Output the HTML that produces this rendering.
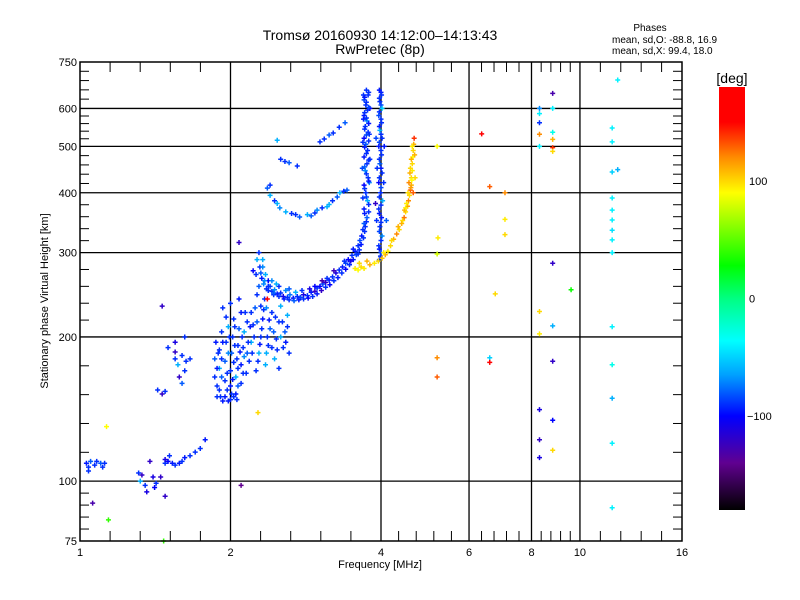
<!DOCTYPE html>
<html><head><meta charset="utf-8">
<style>
html,body{margin:0;padding:0;background:#fff;}
svg{display:block;font-family:"Liberation Sans",sans-serif;}
</style></head>
<body>
<svg id="chart" width="800" height="600" viewBox="0 0 800 600">
<defs>
<linearGradient id="cbar" x1="0" y1="1" x2="0" y2="0">
<stop offset="0" stop-color="#000000"/>
<stop offset="0.111" stop-color="#600090"/>
<stop offset="0.222" stop-color="#0000ff"/>
<stop offset="0.319" stop-color="#00a0ff"/>
<stop offset="0.4" stop-color="#00ffff"/>
<stop offset="0.5" stop-color="#00ff82"/>
<stop offset="0.578" stop-color="#00ff00"/>
<stop offset="0.75" stop-color="#ffff00"/>
<stop offset="0.833" stop-color="#ff8c00"/>
<stop offset="0.917" stop-color="#ff0000"/>
<stop offset="1" stop-color="#ff0000"/>
</linearGradient>
</defs>
<text x="380" y="40" text-anchor="middle" font-size="14">Tromsø 20160930 14:12:00–14:13:43</text>
<text x="380" y="54" text-anchor="middle" font-size="14">RwPretec (8p)</text>
<text x="650" y="31" text-anchor="middle" font-size="10">Phases</text>
<text x="612" y="43" font-size="10">mean, sd,O: -88.8, 16.9</text>
<text x="612" y="54" font-size="10">mean, sd,X:  99.4, 18.0</text>
<g id="grid"></g>
<g id="marks"></g>
<g id="axes"></g>
<text x="380" y="568" text-anchor="middle" font-size="11">Frequency [MHz]</text>
<text transform="translate(48,301) rotate(-90)" text-anchor="middle" font-size="11">Stationary phase Virtual Height [km]</text>
<rect x="719" y="87" width="26" height="423" fill="url(#cbar)"/>
<text x="732" y="83" text-anchor="middle" font-size="14">[deg]</text>
<g id="cbticks"></g>
</svg>
<script>
const xTicks = [1, 2, 4, 6, 8, 10, 16];
const yTicks = [75, 100, 200, 300, 400, 500, 600, 750];
const yGrid = [100, 200, 300, 400, 500, 600];
const xGrid = [2, 4, 6, 8, 10];
const cbTicks = [100, 0, -100];

const oCurve = [[2.29,280,-90],[2.30,272,-80],[2.31,265,-95],[2.33,258,-70],[2.36,252,-90],[2.38,262,-100],[2.40,255,-85],[2.42,249,-90],[2.45,251,-70],[2.48,246,-95],[2.52,247,-90],[2.55,243,-110],[2.60,242,-90],[2.63,245,-75],[2.67,241,-95],[2.72,243,-90],[2.76,242,-85],[2.80,245,-110],[2.85,244,-90],[2.90,248,-95],[2.95,249,-120],[2.98,253,-90],[3.02,255,-100],[3.06,258,-85],[3.10,260,-120],[3.15,263,-95],[3.20,267,-90],[3.25,272,-110],[3.30,276,-90],[3.35,280,-95],[3.40,285,-85],[3.44,290,-100],[3.50,296,-90],[3.55,302,-95],[3.60,310,-90],[3.63,318,-85],[3.66,325,-95],[3.68,335,-90],[3.70,345,-80],[2.58,250,-70],[2.70,248,-60],[2.88,252,-110],[3.05,262,-130],[3.22,275,-125],[3.38,288,-90],[3.52,305,-95],[2.35,270,-60],[2.50,255,-90],[2.42,262,-70],[2.32,290,-60],[2.28,300,-90]];
const oCurveInner = [[2.34,262,-70],[2.38,255,-90],[2.44,247,-80],[2.50,243,-90],[2.56,240,-95],[2.62,239,-90],[2.68,238,-80],[2.74,239,-95],[2.80,240,-90],[2.86,241,-100],[2.92,243,-90],[2.98,246,-95],[3.04,250,-120],[3.10,254,-90],[3.16,257,-100],[3.22,262,-90],[3.28,266,-95],[3.34,272,-90],[3.40,277,-100],[3.46,283,-90],[3.52,290,-95],[3.57,297,-85],[3.62,304,-90],[3.65,312,-95],[3.69,322,-90],[3.71,332,-90],[3.60,298,-90],[3.48,288,-110],[3.12,265,-90],[2.95,255,-100],[2.78,250,-90],[2.62,252,-80],[2.47,258,-60],[2.32,280,-70],[2.26,290,-60],[2.25,270,-90]];
const oColumnA = [[3.72,340,-90],[3.75,355,-80],[3.70,370,-95],[3.76,385,-60],[3.73,400,-90],[3.70,415,-100],[3.77,430,-90],[3.72,445,-70],[3.75,460,-90],[3.70,475,-95],[3.76,490,-90],[3.73,505,-80],[3.70,520,-100],[3.77,535,-90],[3.72,550,-90],[3.75,565,-70],[3.70,580,-95],[3.76,595,-90],[3.73,610,-90],[3.70,625,-85],[3.77,640,-90],[3.74,655,-90],[3.78,365,-90],[3.79,420,-70],[3.80,470,-90],[3.79,530,-90],[3.80,600,-100],[3.68,390,-90],[3.67,450,-85],[3.68,510,-90],[3.69,570,-95],[3.69,640,-90]];
const oColumnC = [[3.74,348,-90],[3.71,362,-95],[3.78,378,-90],[3.74,392,-85],[3.71,408,-90],[3.78,423,-95],[3.74,438,-90],[3.71,453,-80],[3.78,468,-90],[3.74,483,-90],[3.71,498,-95],[3.78,513,-90],[3.74,528,-85],[3.71,543,-90],[3.78,558,-95],[3.74,573,-90],[3.71,588,-90],[3.78,603,-85],[3.74,618,-90],[3.71,633,-95],[3.78,648,-90],[3.99,295,-90],[3.97,305,-95],[4.00,318,-90],[3.97,332,-85],[4.00,347,-90],[3.97,362,-95],[4.00,377,-90],[3.97,392,-90],[4.00,410,-85],[3.97,430,-90],[4.00,450,-95],[3.97,470,-90],[4.00,490,-90],[3.97,510,-85],[4.00,530,-90],[3.97,550,-95],[4.00,570,-90],[3.97,590,-90],[4.00,610,-85],[3.97,630,-90],[4.00,648,-95]];
const oColumnB = [[3.97,290,-90],[4.00,300,-85],[3.96,310,-90],[4.02,325,-70],[3.98,340,-90],[4.01,355,-95],[3.96,370,-90],[4.03,385,-60],[3.99,400,-90],[3.96,420,-100],[4.02,440,-90],[3.98,460,-80],[4.01,480,-90],[3.96,500,-95],[4.02,520,-90],[3.98,540,-60],[4.01,560,-90],[3.96,580,-85],[4.02,600,-50],[3.98,620,-90],[4.01,640,-90],[3.97,655,-95],[3.92,350,-90],[3.90,380,-120],[3.93,450,-90],[3.91,520,-85],[4.05,420,-90],[4.06,500,-95],[4.10,350,-80]];
const xTrace = [[3.55,278,95],[3.60,276,90],[3.65,280,100],[3.70,278,95],[3.80,283,110],[3.88,285,95],[3.95,288,100],[4.02,292,105],[4.08,297,110],[4.13,302,95],[4.18,310,100],[4.24,320,110],[4.30,328,120],[4.35,335,100],[4.40,345,110],[4.45,355,125],[4.48,365,100],[4.52,375,115],[4.54,385,120],[4.56,395,100],[4.58,405,130],[4.60,415,110],[4.60,430,100],[4.62,445,95],[4.62,460,100],[4.63,475,90],[4.64,490,100],[4.65,505,110],[4.66,520,140],[4.55,420,120],[4.53,400,100],[4.57,440,110],[4.50,380,95],[4.46,368,110],[4.42,350,100],[4.64,400,130],[3.62,285,100],[3.75,288,110],[4.05,300,95],[4.20,318,100],[4.33,340,110],[4.48,372,95],[4.59,410,115],[4.61,425,90],[4.58,450,100],[4.60,470,110],[4.62,500,95],[4.67,480,110],[4.68,430,100]];
const upperEchoes = [[2.37,409,-80],[2.40,395,-60],[2.45,385,-90],[2.51,372,-70],[2.58,365,-60],[2.65,362,-90],[2.75,356,-80],[2.85,360,-60],[2.95,363,-90],[2.98,368,-70],[3.05,372,-90],[3.12,374,-60],[3.20,385,-90],[3.27,392,-80],[3.31,400,-60],[3.37,403,-90],[3.42,405,-80],[2.40,415,-90],[2.48,380,-60],[2.70,360,-90],[2.90,358,-80],[3.15,378,-60],[3.02,511,-90],[3.08,518,-90],[3.15,528,-80],[3.21,533,-90],[3.30,548,-90],[3.39,560,-80],[2.48,515,-60],[2.52,470,-90],[2.57,465,-90],[2.62,462,-80],[2.72,455,-90]];
const lowBlob = [[1.86,165,-90],[1.86,180,-80],[1.87,195,-95],[1.90,155,-90],[1.90,172,-60],[1.90,188,-90],[1.92,205,-90],[1.95,150,-95],[1.95,162,-90],[1.95,178,-80],[1.96,195,-90],[1.98,210,-60],[2.00,148,-90],[2.00,158,-95],[2.00,170,-90],[2.01,185,-80],[2.02,200,-90],[2.03,218,-90],[2.05,152,-95],[2.05,165,-60],[2.06,180,-90],[2.07,192,-90],[2.08,208,-80],[2.10,160,-90],[2.10,175,-95],[2.12,190,-90],[2.13,205,-60],[2.14,225,-90],[2.15,168,-90],[2.16,185,-80],[1.93,230,-90],[2.00,235,-90],[2.08,240,-95],[2.18,178,-90],[2.20,195,-60],[2.22,212,-90],[2.24,230,-80],[2.25,170,-90],[2.28,185,-60],[2.30,200,-90],[2.32,218,-95],[2.34,240,-90],[2.35,175,-60],[2.38,192,-90],[2.40,208,-80],[2.42,225,-90],[2.45,180,-60],[2.47,198,-90],[2.50,215,-90],[2.52,232,-60],[2.55,190,-90],[2.57,205,-80],[2.60,222,-60],[2.62,185,-90],[2.50,172,-90],[2.38,250,-90],[2.28,255,-80],[2.44,245,-90],[2.20,225,-90],[1.88,150,-90],[1.93,147,-95],[2.03,150,-90],[2.22,275,-100],[2.08,315,-120],[2.37,240,170]];
const lowBlobExtra = [[1.88,158,-90],[1.88,172,-95],[1.89,185,-90],[1.92,165,-80],[1.92,180,-90],[1.93,195,-95],[1.97,155,-90],[1.97,168,-90],[1.98,185,-70],[1.99,200,-90],[2.02,163,-95],[2.03,177,-90],[2.04,192,-90],[2.07,158,-80],[2.07,172,-90],[2.09,186,-95],[2.11,200,-90],[2.12,168,-90],[2.13,182,-70],[2.17,195,-90],[2.19,210,-95],[2.21,185,-90],[2.23,200,-90],[2.26,215,-80],[2.27,178,-90],[2.29,193,-95],[2.31,208,-90],[2.33,228,-90],[2.36,185,-60],[2.37,200,-90],[2.39,217,-95],[2.42,190,-90],[2.44,205,-80],[2.46,220,-90],[2.48,188,-90],[2.52,200,-60],[2.54,215,-90],[2.58,195,-95],[2.60,210,-90],[2.30,232,-90],[2.26,245,-90],[2.36,230,-70],[2.16,215,-90],[2.10,225,-95],[2.04,210,-90],[1.96,220,-90],[1.91,150,-90],[1.98,147,-95],[2.06,148,-90],[2.01,152,-90]];
const lowTraces = [[1.03,109,-95],[1.04,107,-90],[1.05,110,-80],[1.07,108,-90],[1.08,110,-90],[1.10,109,-80],[1.11,107,-90],[1.12,109,-90],[1.04,105,-90],[1.40,102,-110],[1.42,99,-90],[1.41,97,-100],[1.45,102,-120],[1.48,109,-90],[1.50,110,-100],[1.53,109,-95],[1.55,108,-90],[1.58,109,-95],[1.60,110,-90],[1.62,112,-95],[1.66,113,-90],[1.70,115,-90],[1.74,117,-90],[1.78,122,-95],[1.51,113,-90],[1.48,111,-110],[1.31,104,-90],[1.32,100,-60],[1.33,103,-120],[1.35,98,-90],[1.36,95,-110],[1.55,180,-90],[1.57,175,-60],[1.60,183,-90],[1.62,170,-90],[1.58,165,-120],[1.60,160,-80],[1.63,178,-90],[1.55,186,-120],[1.43,155,-90],[1.46,152,-120],[1.48,154,-90],[1.50,190,-90],[1.66,180,-90],[1.46,232,-120],[1.06,90,-130],[1.14,83,40],[1.47,75,40],[1.48,93,-120],[1.38,110,-120],[2.10,98,-140],[1.13,130,90],[2.27,139,100],[1.62,200,-90],[1.55,195,-110]];
const sparsePoints = [[5.18,500,90],[5.20,322,95],[5.18,298,80],[5.18,181,120],[5.18,165,130],[6.36,531,160],[6.60,412,130],[6.60,181,-50],[6.60,177,170],[6.77,246,100],[7.08,400,120],[7.08,352,95],[7.08,327,100],[8.30,600,-70],[8.30,585,-40],[8.30,560,-90],[8.30,530,120],[8.30,500,-40],[8.30,226,100],[8.30,203,95],[8.30,141,-110],[8.30,122,-120],[8.30,112,-110],[8.82,645,-130],[8.82,600,-40],[8.82,535,-30],[8.82,517,110],[8.82,497,140],[8.82,488,100],[8.82,285,-120],[8.82,211,-60],[8.82,178,-120],[8.82,134,-100],[8.82,116,100],[9.60,251,30],[11.6,546,-40],[11.6,511,-40],[11.6,442,-50],[11.6,390,-40],[11.6,368,-40],[11.6,351,-40],[11.6,334,-45],[11.6,319,-40],[11.6,300,-40],[11.6,210,-40],[11.6,175,-30],[11.6,149,-60],[11.6,120,-40],[11.6,88,-40],[11.9,688,-40],[11.9,447,-60]];

const PL=80, PR=682, PT=62, PB=541;
const NS='http://www.w3.org/2000/svg';
function xs(f){ return PL + (PR-PL)*Math.log(f)/Math.log(16); }
function ys(h){ return PB - (PB-PT)*Math.log(h/75)/Math.log(10); }
function cbY(p){ return 510 - 423*(p+180)/360; }
const stops=[[-180,0,0,0],[-140,96,0,144],[-100,0,0,255],[-65,0,160,255],[-36,0,255,255],[0,0,255,130],[28,0,255,0],[90,255,255,0],[120,255,140,0],[150,255,0,0],[180,255,0,0]];
function color(p){
  for(let i=0;i<stops.length-1;i++){
    const a=stops[i],b=stops[i+1];
    if(p<=b[0]){const t=Math.max(0,(p-a[0])/(b[0]-a[0]));
      return 'rgb('+Math.round(a[1]+t*(b[1]-a[1]))+','+Math.round(a[2]+t*(b[2]-a[2]))+','+Math.round(a[3]+t*(b[3]-a[3]))+')';}
  }
  return 'rgb(255,0,0)';
}
function line(g,x1,y1,x2,y2,w){
  const l=document.createElementNS(NS,'line');
  l.setAttribute('x1',x1);l.setAttribute('y1',y1);l.setAttribute('x2',x2);l.setAttribute('y2',y2);
  l.setAttribute('stroke','#000');l.setAttribute('stroke-width',w||1);
  g.appendChild(l);return l;
}
function txt(g,x,y,s,anchor,size){
  const t=document.createElementNS(NS,'text');
  t.setAttribute('x',x);t.setAttribute('y',y);t.setAttribute('text-anchor',anchor);t.setAttribute('font-size',size);
  t.textContent=s;g.appendChild(t);return t;
}
const grid=document.getElementById('grid');
yGrid.forEach(v=>{const l=line(grid,PL,ys(v),PR,ys(v),1.3);

});
xGrid.forEach(v=>{const l=line(grid,xs(v),PT,xs(v),PB,1.3);

});

const axes=document.getElementById('axes');
const frame=document.createElementNS(NS,'rect');
frame.setAttribute('x',PL);frame.setAttribute('y',PT);frame.setAttribute('width',PR-PL);frame.setAttribute('height',PB-PT);
frame.setAttribute('fill','none');frame.setAttribute('stroke','#000');frame.setAttribute('stroke-width',1.5);


axes.appendChild(frame);
for(let i=0;i<xTicks.length-1;i++){
  const a=xs(xTicks[i]),b=xs(xTicks[i+1]);
  for(let k=1;k<5;k++){const x=a+(b-a)*k/5;line(axes,x,PB,x,PB-10,1);line(axes,x,PT,x,PT+10,1);}
}
xTicks.forEach(v=>{const t=txt(axes,xs(v),556,String(v),'middle',11);

});
for(let i=0;i<yTicks.length-1;i++){
  const a=ys(yTicks[i]),b=ys(yTicks[i+1]);
  for(let k=1;k<5;k++){const y=a+(b-a)*k/5;line(axes,PL,y,PL+9,y,1);line(axes,PR,y,PR-9,y,1);}
}
yTicks.forEach(v=>{const t=txt(axes,PL-3,ys(v)+4,String(v),'end',11);

});

const cb=document.getElementById('cbticks');
cbTicks.forEach(v=>{const t=txt(cb,v<0?747:749,cbY(v)+4,v<0?'\u2212'+(-v):String(v),'start',11);

});

const marks=document.getElementById('marks');
function plot(arr,name){
  const g=document.createElementNS(NS,'g');
  
  
  arr.forEach(d=>{
    const x=xs(d[0]),y=ys(d[1]);
    const p=document.createElementNS(NS,'path');
    p.setAttribute('d','M'+(x-2.5)+' '+y+'H'+(x+2.5)+'M'+x+' '+(y-2.5)+'V'+(y+2.5));
    p.setAttribute('stroke',color(d[2]));p.setAttribute('stroke-width',1.5);p.setAttribute('fill','none');
    
    
    g.appendChild(p);
  });
  marks.appendChild(g);
}
plot(lowBlob,'low-blob-points');
plot(lowBlobExtra,'low-blob-extra-points');
plot(lowTraces,'low-frequency-points');
plot(upperEchoes,'upper-echo-points');
plot(oCurve,'o-trace-curve');
plot(oCurveInner,'o-trace-curve-inner');
plot(oColumnA,'o-trace-column-a');
plot(oColumnC,'o-trace-column-c');
plot(oColumnB,'o-trace-column-b');
plot(xTrace,'x-trace-points');
plot(sparsePoints,'sparse-points');
</script>
</body></html>
